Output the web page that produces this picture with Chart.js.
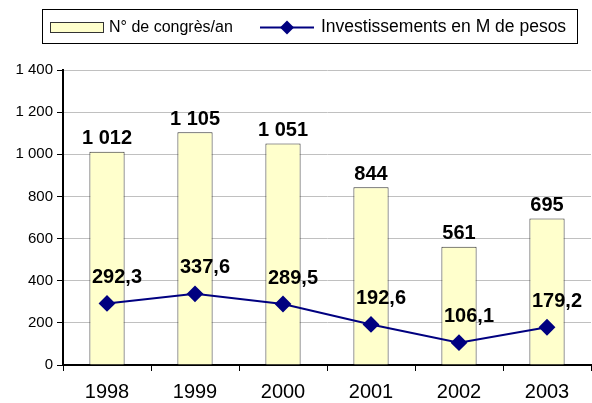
<!DOCTYPE html>
<html>
<head>
<meta charset="utf-8">
<script src="https://cdn.jsdelivr.net/npm/chart.js@4"></script>
<style>
  html, body { margin: 0; padding: 0; background: #fff; }
  #wrap { width: 592px; height: 403px; }
</style>
</head>
<body>
<div id="wrap"><canvas id="chart" width="592" height="403"></canvas></div>
<script>
const years = ['1998', '1999', '2000', '2001', '2002', '2003'];
const congres = [1012, 1105, 1051, 844, 561, 695];
const investissements = [292.3, 337.6, 289.5, 192.6, 106.1, 179.2];
const legendLabels = ['N° de congrès/an', 'Investissements en M de pesos'];

function espaceMilliers(v) {
    return String(v).replace(/\B(?=(\d{3})+(?!\d))/g, ' ');
}

function virgule(v) {
    return v.toFixed(1).replace('.', ',');
}

// data labels above bars and points
const etiquettes = {
    id: 'etiquettes',
    afterDatasetsDraw: function(chart) {
        const ctx = chart.ctx;
        ctx.save();
        ctx.font = 'bold 20px "Liberation Sans", Arial, sans-serif';
        ctx.fillStyle = '#000';
        ctx.textAlign = 'center';
        ctx.textBaseline = 'middle';
        chart.getDatasetMeta(0).data.forEach(function(bar, i) {
            ctx.fillText(espaceMilliers(congres[i]), bar.x, bar.y - 13);
        });
        chart.getDatasetMeta(1).data.forEach(function(pt, i) {
            ctx.fillText(virgule(investissements[i]), pt.x + 10, pt.y - 26);
        });
        ctx.restore();
    }
};

// legend drawn in a framed box like the original
const legende = {
    id: 'legende',
    afterDraw: function(chart) {
        const ctx = chart.ctx;
        ctx.save();
        ctx.strokeStyle = '#000';
        ctx.lineWidth = 1;
        ctx.strokeRect(42.5, 9.5, 535, 34);

        ctx.fillStyle = '#FFFFCC';
        ctx.fillRect(50.5, 22.5, 53, 10);
        ctx.strokeStyle = '#333';
        ctx.strokeRect(50.5, 22.5, 53, 10);

        ctx.strokeStyle = '#000080';
        ctx.lineWidth = 2;
        ctx.beginPath();
        ctx.moveTo(260, 27.5);
        ctx.lineTo(314, 27.5);
        ctx.stroke();
        ctx.fillStyle = '#000080';
        ctx.beginPath();
        ctx.moveTo(287, 20.5);
        ctx.lineTo(294, 27.5);
        ctx.lineTo(287, 34.5);
        ctx.lineTo(280, 27.5);
        ctx.closePath();
        ctx.fill();

        ctx.fillStyle = '#000';
        ctx.textBaseline = 'middle';
        ctx.textAlign = 'left';
        ctx.font = '16px "Liberation Sans", Arial, sans-serif';
        ctx.fillText(legendLabels[0], 109, 27.5);
        ctx.font = '17.5px "Liberation Sans", Arial, sans-serif';
        ctx.fillText(legendLabels[1], 321, 27.5);
        ctx.restore();
    }
};

const ctx = document.getElementById('chart').getContext('2d');
new Chart(ctx, {
    data: {
        labels: years,
        datasets: [{
            type: 'bar',
            label: legendLabels[0],
            data: congres,
            backgroundColor: '#FFFFCC',
            borderColor: '#333',
            borderWidth: 1,
            barPercentage: 0.4,
            categoryPercentage: 1,
            order: 2
        }, {
            type: 'line',
            label: legendLabels[1],
            data: investissements,
            borderColor: '#000080',
            backgroundColor: '#000080',
            borderWidth: 2,
            pointStyle: 'rectRot',
            pointRadius: 7,
            pointHoverRadius: 7,
            tension: 0,
            clip: false,
            order: 1
        }]
    },
    options: {
        responsive: false,
        animation: false,
        layout: { autoPadding: false, padding: { top: 70, right: 1, left: 0, bottom: 0 } },
        plugins: {
            legend: { display: false },
            tooltip: { enabled: false }
        },
        scales: {
            x: {
                afterFit: function(scale) {
                    scale.height = 38;
                    scale.paddingLeft = 0;
                    scale.paddingRight = 0;
                },
                grid: {
                    offset: true,
                    drawOnChartArea: false,
                    drawTicks: true,
                    tickLength: 6,
                    tickColor: '#000',
                    tickWidth: 1
                },
                border: { color: '#000', width: 2 },
                ticks: {
                    color: '#000',
                    padding: 9,
                    font: { family: '"Liberation Sans", Arial, sans-serif', size: 20 }
                }
            },
            y: {
                min: 0,
                max: 1400,
                afterFit: function(scale) { scale.width = 63; },
                grid: {
                    color: '#c0c0c0',
                    lineWidth: 1,
                    tickColor: '#000',
                    tickLength: 6
                },
                border: { color: '#000', width: 2 },
                ticks: {
                    stepSize: 200,
                    color: '#000',
                    padding: 4,
                    font: { family: '"Liberation Sans", Arial, sans-serif', size: 15 },
                    callback: function(v) { return espaceMilliers(v); }
                }
            }
        }
    },
    plugins: [etiquettes, legende]
});
</script>
</body>
</html>
